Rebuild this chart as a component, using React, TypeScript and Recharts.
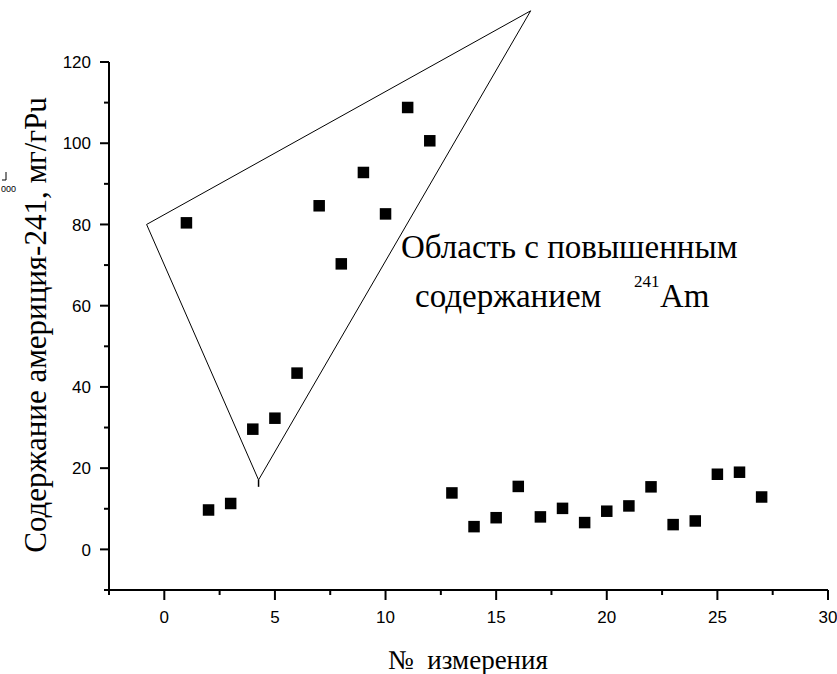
import React from 'react';
import { ScatterChart, Scatter, XAxis, YAxis, ReferenceLine } from 'recharts';

// Measurement numbers and Am-241 content (mg per g Pu)
const measurementNo = [1, 2, 3, 4, 5, 6, 7, 8, 9, 10, 11, 12, 13, 14, 15, 16, 17, 18, 19, 20, 21, 22, 23, 24, 25, 26, 27];
const americium = [80.4, 9.7, 11.3, 29.6, 32.3, 43.4, 84.6, 70.3, 92.8, 82.6, 108.8, 100.6, 13.9, 5.6, 7.8, 15.5, 8.0, 10.1, 6.6, 9.4, 10.7, 15.4, 6.1, 7.0, 18.5, 19.0, 12.9];

// Outline of the elevated-content region (triangle vertices in data units)
const regionX = [-0.8, 16.56, 4.26];
const regionY = [80, 132.6, 17.1];
const apexStubY = 15.4;

// Axis ticks: all positions, and those that carry a label
const xTicks = [-2.5, 0, 2.5, 5, 7.5, 10, 12.5, 15, 17.5, 20, 22.5, 25, 27.5, 30];
const xLabeled = [0, 5, 10, 15, 20, 25, 30];
const yTicks = [-10, 0, 10, 20, 30, 40, 50, 60, 70, 80, 90, 100, 110, 120];
const yLabeled = [0, 20, 40, 60, 80, 100, 120];

const points = measurementNo.map((n, i) => ({ n, am: americium[i] }));

const SANS = '"Liberation Sans", Arial, sans-serif';
const SERIF = '"Liberation Serif", "Times New Roman", serif';

const XTick = (props: any) => {
  const { x, y, payload } = props;
  const major = xLabeled.includes(payload.value);
  return (
    <g>
      <line x1={x} x2={x} y1={y} y2={y + (major ? 10 : 5)} stroke="#000" strokeWidth={2} />
      {major && (
        <text x={x} y={y + 33} textAnchor="middle" fontFamily={SANS} fontSize={17} fill="#000">
          {payload.value}
        </text>
      )}
    </g>
  );
};

const YTick = (props: any) => {
  const { x, y, payload } = props;
  const major = yLabeled.includes(payload.value);
  return (
    <g>
      <line x1={x} x2={x - (major ? 9 : 5)} y1={y} y2={y} stroke="#000" strokeWidth={2} />
      {major && (
        <text x={x - 18} y={y} dy="0.36em" textAnchor="end" fontFamily={SANS} fontSize={17} fill="#000">
          {payload.value}
        </text>
      )}
    </g>
  );
};

const SquareMark = (props: any) => {
  const { cx, cy } = props;
  return <rect x={cx - 5.75} y={cy - 5.75} width={11.5} height={11.5} fill="#000" />;
};

const W = 837;
const H = 674;

export default function App() {
  const edges = [0, 1, 2].map((i) => {
    const j = (i + 1) % 3;
    return [
      { x: regionX[i], y: regionY[i] },
      { x: regionX[j], y: regionY[j] },
    ];
  });

  return (
    <div style={{ position: 'absolute', left: 0, top: 0, width: W, height: H, background: '#fff' }}>
      <ScatterChart width={W} height={H} margin={{ top: 62, right: 9, bottom: 0, left: 0 }}>
        <XAxis
          type="number"
          dataKey="n"
          domain={[-2.5, 30]}
          ticks={xTicks}
          interval={0}
          height={84}
          tickSize={0}
          tickMargin={0}
          tickLine={false}
          axisLine={{ stroke: '#000', strokeWidth: 2 }}
          tick={<XTick />}
        />
        <YAxis
          type="number"
          dataKey="am"
          domain={[-10, 120]}
          ticks={yTicks}
          interval={0}
          width={109}
          tickSize={0}
          tickMargin={0}
          tickLine={false}
          axisLine={{ stroke: '#000', strokeWidth: 2 }}
          tick={<YTick />}
        />
        {edges.map((seg, i) => (
          <ReferenceLine key={i} segment={seg} stroke="#000" strokeWidth={1} ifOverflow="visible" />
        ))}
        <ReferenceLine
          segment={[
            { x: regionX[2], y: regionY[2] },
            { x: regionX[2], y: apexStubY },
          ]}
          stroke="#000"
          strokeWidth={1.5}
          ifOverflow="visible"
        />
        <Scatter data={points} shape={<SquareMark />} isAnimationActive={false} />
      </ScatterChart>
      <svg
        width={W}
        height={H}
        style={{ position: 'absolute', left: 0, top: 0, pointerEvents: 'none' }}
      >
        <text
          transform="translate(35,325) rotate(-90)"
          textAnchor="middle"
          dominantBaseline="central"
          fontFamily={SERIF}
          fontSize={31}
          fill="#000"
        >
          Содержание америция-241, мг/гPu
        </text>
        <text x={468} y={669} textAnchor="middle" fontFamily={SERIF} fontSize={27} fill="#000">
          {'№\u00a0 измерения'}
        </text>
        <text x={401} y={258} fontFamily={SERIF} fontSize={33} fill="#000">
          Область с повышенным
        </text>
        <text x={415} y={307} fontFamily={SERIF} fontSize={33} fill="#000">
          содержанием
        </text>
        <text x={634} y={287} fontFamily={SERIF} fontSize={17} fill="#000">
          241
        </text>
        <text x={660} y={307} fontFamily={SERIF} fontSize={33} fill="#000">
          Am
        </text>
        <path d="M6 172 V180 H2" stroke="#000" strokeWidth={1} fill="none" />
        <text x={1} y={192} fontFamily={SANS} fontSize={9} fill="#000">
          000
        </text>
      </svg>
    </div>
  );
}
